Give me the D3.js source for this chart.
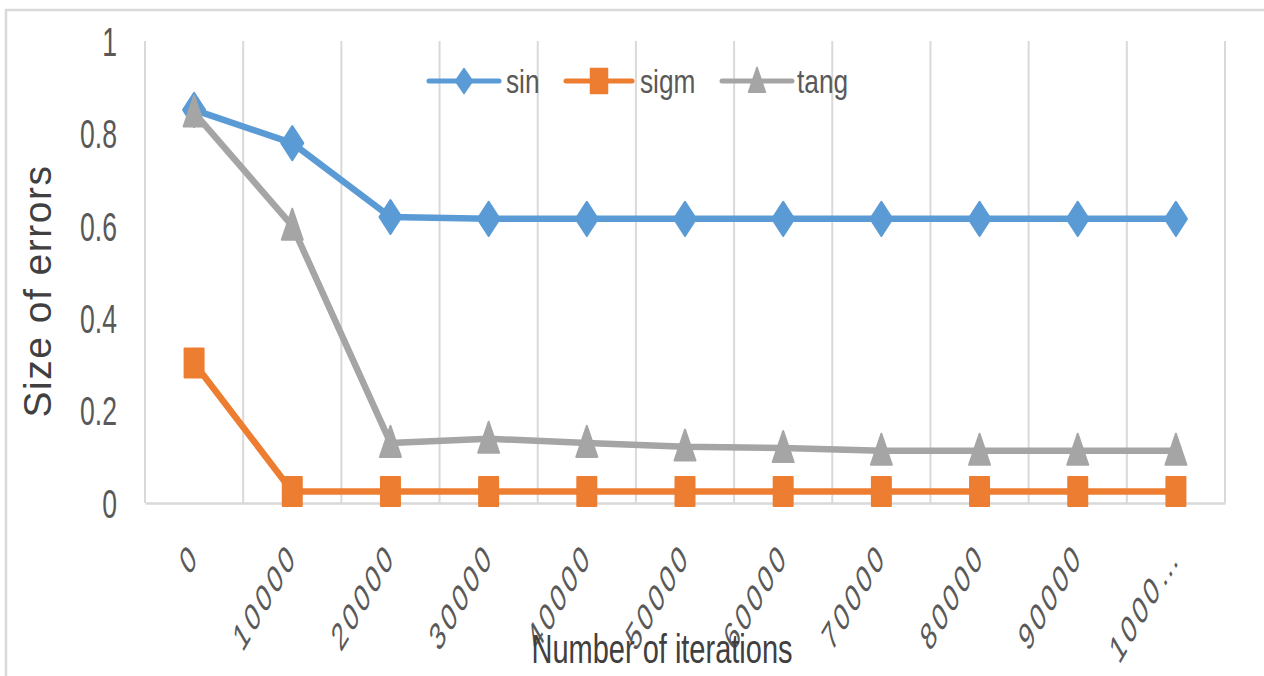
<!DOCTYPE html>
<html>
<head>
<meta charset="utf-8">
<script src="https://cdn.jsdelivr.net/npm/d3@7"></script>
<style>
  html, body { margin: 0; padding: 0; background: #ffffff; }
  svg { display: block; }
</style>
</head>
<body>
<svg id="chart" width="1264" height="676"></svg>
<script>
// Iteration counts and error sizes for the three activation functions
const categories = [0, 10000, 20000, 30000, 40000, 50000, 60000, 70000, 80000, 90000, 100000];
const tickLabels = ["0", "10000", "20000", "30000", "40000", "50000", "60000", "70000", "80000", "90000", "1000\u2026"];
const sinValues  = [0.851, 0.779, 0.619, 0.615, 0.615, 0.615, 0.615, 0.615, 0.615, 0.615, 0.615];
const sigmValues = [0.303, 0.025, 0.025, 0.025, 0.025, 0.025, 0.025, 0.025, 0.025, 0.025, 0.025];
const tangValues = [0.845, 0.600, 0.130, 0.139, 0.130, 0.122, 0.119, 0.113, 0.113, 0.113, 0.113];
const seriesNames = ["sin", "sigm", "tang"];
const yTicks = [0, 0.2, 0.4, 0.6, 0.8, 1];

const svg = d3.select("#chart");
const plot = { left: 145, right: 1225, top: 41, bottom: 503 };
const font = "'Liberation Sans', Arial, sans-serif";
const textColor = "#595959";
const titleColor = "#404040";
const gridColor = "#d9d9d9";

const x = d3.scaleBand().domain(categories).range([plot.left, plot.right]).padding(0);
const y = d3.scaleLinear().domain([0, 1]).range([plot.bottom, plot.top]);
const cx = d => x(d) + x.bandwidth() / 2;

const series = [
  { name: seriesNames[0], values: sinValues,  color: "#5b9bd5", shape: "diamond" },
  { name: seriesNames[1], values: sigmValues, color: "#ed7d31", shape: "square" },
  { name: seriesNames[2], values: tangValues, color: "#a5a5a5", shape: "triangle" }
];

// chart frame
svg.append("rect")
  .attr("x", 6).attr("y", 10).attr("width", 1300).attr("height", 700)
  .attr("fill", "none").attr("stroke", gridColor).attr("stroke-width", 2.5);

// vertical gridlines on the category boundaries
const bounds = d3.range(categories.length + 1).map(i => plot.left + i * x.step());
svg.append("g").selectAll("line").data(bounds).join("line")
  .attr("x1", d => d).attr("x2", d => d)
  .attr("y1", plot.top).attr("y2", plot.bottom)
  .attr("stroke", gridColor).attr("stroke-width", 2);

// y axis labels (tall, narrow glyphs)
const yAxis = svg.append("g")
  .attr("transform", `translate(${plot.left},0)`)
  .call(d3.axisLeft(y).tickValues(yTicks).tickFormat(d3.format("")).tickSize(0));
yAxis.select(".domain").remove();
yAxis.selectAll("text")
  .attr("x", 0).attr("dy", "0.36em")
  .attr("text-anchor", "end")
  .attr("transform", "translate(-28,0) scale(0.95,1.42)")
  .style("font-family", font).style("font-size", "28px")
  .attr("fill", textColor);

// x axis line and slanted, letter-spaced labels
const xAxis = svg.append("g")
  .attr("transform", `translate(0,${plot.bottom})`)
  .call(d3.axisBottom(x).tickFormat((d, i) => tickLabels[i]).tickSize(0).tickSizeOuter(0));
xAxis.select(".domain").attr("stroke", gridColor).attr("stroke-width", 2.5);
xAxis.selectAll("text")
  .attr("x", 0).attr("y", 0).attr("dy", 0)
  .attr("text-anchor", "end")
  .attr("transform", "translate(6,55) scale(1,1.7) rotate(-45)")
  .style("font-family", font)
  .style("font-size", "23px")
  .style("letter-spacing", "3px")
  .attr("fill", textColor);

// marker shapes, sized w x h around the point
function markerPath(shape, w, h) {
  if (shape === "diamond") {
    return `M0,${-h / 2}L${w / 2},0L0,${h / 2}L${-w / 2},0Z`;
  }
  if (shape === "square") {
    return `M${-w / 2},${-h / 2}H${w / 2}V${h / 2}H${-w / 2}Z`;
  }
  return `M0,${-h * 0.55}L${w / 2},${h * 0.45}L${-w / 2},${h * 0.45}Z`;
}
const markerSize = { diamond: [22, 34], square: [19, 29], triangle: [21, 31] };

const line = d3.line().x((d, i) => cx(categories[i])).y(d => y(d));

series.forEach(s => {
  const g = svg.append("g");
  g.append("path")
    .attr("d", line(s.values))
    .attr("fill", "none").attr("stroke", s.color)
    .attr("stroke-width", 6.5).attr("stroke-linejoin", "round");
  const [w, h] = markerSize[s.shape];
  g.selectAll("path.marker").data(s.values).join("path")
    .attr("class", "marker")
    .attr("transform", (d, i) => `translate(${cx(categories[i])},${y(d)})`)
    .attr("d", markerPath(s.shape, w, h))
    .attr("fill", s.color).attr("stroke", s.color)
    .attr("stroke-width", 2).attr("stroke-linejoin", "round");
});

// legend
const legendItems = [
  { lineX: 429, lineW: 70, textX: 506 },
  { lineX: 566, lineW: 66, textX: 640 },
  { lineX: 722, lineW: 70, textX: 797 }
];
const legendY = 81;
const legendMarker = { diamond: [17, 25], square: [17, 25], triangle: [17, 25] };
series.forEach((s, i) => {
  const it = legendItems[i];
  const g = svg.append("g");
  g.append("line")
    .attr("x1", it.lineX).attr("x2", it.lineX + it.lineW)
    .attr("y1", legendY).attr("y2", legendY)
    .attr("stroke", s.color).attr("stroke-width", 5).attr("stroke-linecap", "round");
  const [w, h] = legendMarker[s.shape];
  g.append("path")
    .attr("transform", `translate(${it.lineX + it.lineW / 2},${legendY})`)
    .attr("d", markerPath(s.shape, w, h))
    .attr("fill", s.color).attr("stroke", s.color)
    .attr("stroke-width", 1.5).attr("stroke-linejoin", "round");
  g.append("text")
    .attr("transform", `translate(${it.textX},93) scale(1.05,1.32)`)
    .style("font-family", font).style("font-size", "25px")
    .attr("fill", textColor)
    .text(s.name);
});

// axis titles
svg.append("text")
  .attr("transform", "translate(662,663) scale(1,1.4)")
  .attr("text-anchor", "middle")
  .style("font-family", font).style("font-size", "29px")
  .attr("fill", titleColor)
  .text("Number of iterations");

svg.append("text")
  .attr("transform", "translate(51,291) rotate(-90)")
  .attr("text-anchor", "middle")
  .style("font-family", font).style("font-size", "39px")
  .style("letter-spacing", "1.5px")
  .attr("fill", titleColor)
  .text("Size of errors");
</script>
</body>
</html>
